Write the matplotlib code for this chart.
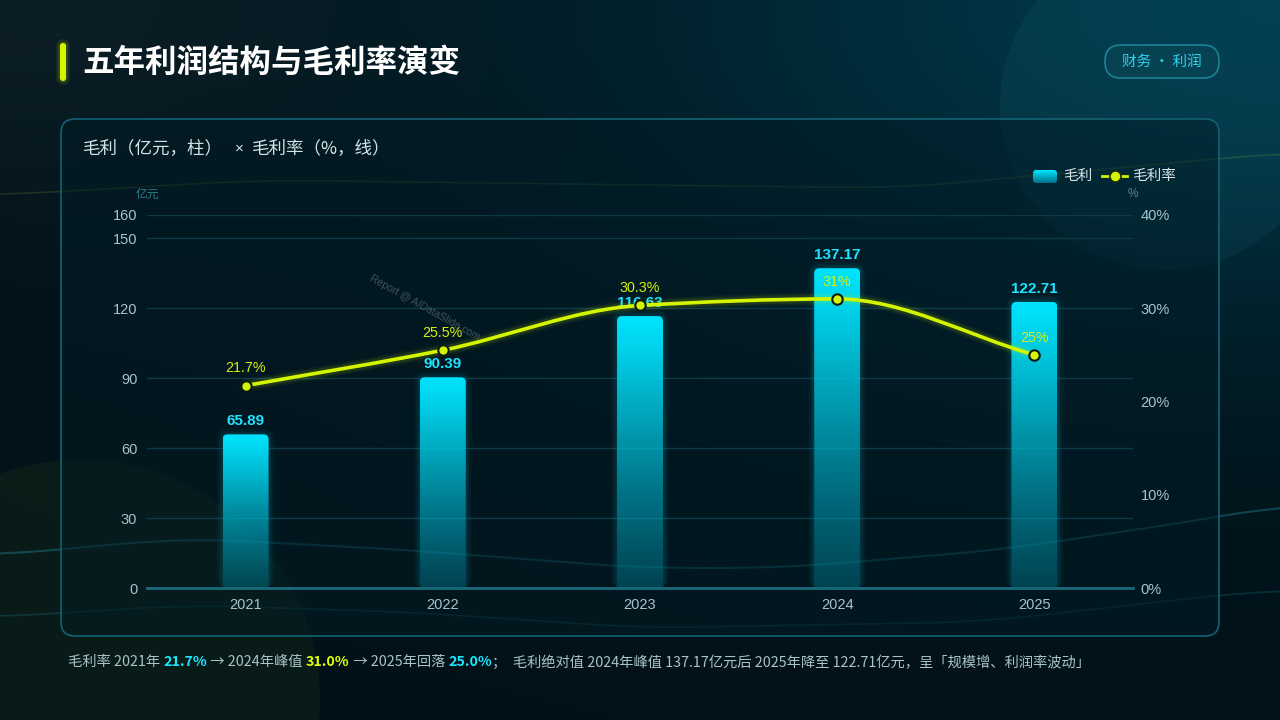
import numpy as np
import matplotlib.pyplot as plt
from matplotlib.patches import FancyBboxPatch, Circle, PathPatch
from matplotlib.path import Path

plt.rcParams['font.family'] = ['Liberation Sans', 'Noto Sans CJK SC', 'DejaVu Sans']

# ---------------------------------------------------------------- data
years = ['2021', '2022', '2023', '2024', '2025']
gross_profit = [65.89, 90.39, 116.63, 137.17, 122.71]      # 亿元
gross_margin = [21.7, 25.5, 30.3, 31.0, 25.0]              # %
margin_labels = ['21.7%', '25.5%', '30.3%', '31%', '25%']
left_ticks = [0, 30, 60, 90, 120, 150, 160]
right_ticks = [0, 10, 20, 30, 40]

title = '五年利润结构与毛利率演变'
subtitle = ['毛利（亿元，柱）', '×', '毛利率（%，线）']
tag = '财务 · 利润'
footer = [('毛利率 2021年 ', 'base'), ('21.7%', 'cyan'), (' → 2024年峰值 ', 'base'),
          ('31.0%', 'lime'), (' → 2025年回落 ', 'base'), ('25.0%', 'cyan'),
          ('；  毛利绝对值 2024年峰值 137.17亿元后 2025年降至 122.71亿元，呈「规模增、利润率波动」', 'base')]

CYAN = '#00e5ff'
LIME = '#d4f500'
TXT = '#a9c3cb'
CJK = 'Noto Sans CJK SC'

W, H = 1280, 720
fig = plt.figure(figsize=(12.8, 7.2), dpi=100)


def fx(x):
    return x / W


def fy(y):
    return 1 - y / H


def ftext(x, y, s, **kw):
    return fig.text(fx(x), fy(y), s, **kw)


# ---------------------------------------------------------------- background
bg = fig.add_axes([0, 0, 1, 1])
bg.set_xlim(0, W)
bg.set_ylim(H, 0)
bg.axis('off')

yy, xx = np.mgrid[0:1:180j, 0:1:320j]
base = np.array([0.008, 0.07, 0.095])
tl = np.array([0.05, 0.115, 0.145])
tr = np.array([0.0, 0.22, 0.29])
w_tl = 0.9 * np.exp(-(xx ** 2 + yy ** 2) / 0.08)[..., None]
w_tr = np.exp(-((xx - 1.0) ** 2 + yy ** 2 * 1.3) / 0.28)[..., None]
img = base * np.clip(1 - w_tl - w_tr, 0, 1) + tl * w_tl + tr * w_tr
img = np.clip(img, 0, 1)
bg.imshow(img, extent=[0, W, H, 0], aspect='auto', zorder=0, interpolation='bicubic')

bg.add_patch(Circle((1165, 105), 165, facecolor='#3fb0c8', alpha=0.07, edgecolor='none', zorder=1))
bg.add_patch(Circle((80, 700), 240, facecolor='#4a7a20', alpha=0.1, edgecolor='none', zorder=1))


def deco_curve(px, py, **kw):
    xs = np.linspace(0, W, 400)
    ys = np.interp(xs, px, py)
    k = np.ones(41) / 41
    ys = np.convolve(np.pad(ys, 20, mode='edge'), k, mode='valid')
    bg.plot(xs, ys, **kw)


deco_curve([0, 260, 640, 900, 1280], [195, 180, 185, 188, 153], color='#9acd32', alpha=0.16, lw=1.2, zorder=1)
deco_curve([0, 184, 408, 640, 780, 1000, 1220, 1280], [555, 538, 550, 568, 568, 550, 517, 505],
           color='#2ab0c8', alpha=0.3, lw=1.5, zorder=1)
deco_curve([0, 184, 408, 640, 980, 1220, 1280], [617, 605, 612, 628, 622, 595, 590],
           color='#2ab0c8', alpha=0.18, lw=1.2, zorder=1)

# panel
bg.add_patch(FancyBboxPatch((61, 119), 1158, 517, boxstyle='round,pad=0,rounding_size=14',
                            facecolor='#021b25', alpha=0.5, edgecolor='none', zorder=2))
bg.add_patch(FancyBboxPatch((61, 119), 1158, 517, boxstyle='round,pad=0,rounding_size=14',
                            facecolor='none', edgecolor='#126273', lw=1.2, zorder=2))

# title accent + title
for lw, a in [(10, 0.08), (7, 0.15)]:
    bg.plot([63, 63], [46, 78], color=LIME, lw=lw, alpha=a, solid_capstyle='round', zorder=3)
bg.add_patch(FancyBboxPatch((60, 43), 6, 38, boxstyle='round,pad=0,rounding_size=3',
                            facecolor=LIME, edgecolor='none', zorder=3))
ftext(82, 63, title, fontsize=22.7, weight='bold', color='white', va='center', family=CJK)

# tag pill
bg.add_patch(FancyBboxPatch((1105, 45), 114, 33, boxstyle='round,pad=0,rounding_size=16',
                            facecolor='#0a4656', alpha=0.6, edgecolor='none', zorder=3))
bg.add_patch(FancyBboxPatch((1105, 45), 114, 33, boxstyle='round,pad=0,rounding_size=16',
                            facecolor='none', edgecolor='#1a8296', lw=1.2, zorder=3))
ftext(1162, 62, tag, fontsize=10.5, color='#2fd4ec', ha='center', va='center', family=CJK)

# subtitle (× drawn in a latin font)
ftext(83, 148, subtitle[0], fontsize=12.6, color='#d6e4e8', va='center', family=CJK)
ftext(239, 149, subtitle[1], fontsize=11, color='#d6e4e8', va='center', ha='center',
      family='Liberation Sans')
ftext(252, 148, subtitle[2], fontsize=12.6, color='#d6e4e8', va='center', family=CJK)

# legend
grad_sw = np.linspace(1, 0, 20)[:, None] * np.array([0, 0.9, 1.0]) + \
          np.linspace(0, 1, 20)[:, None] * np.array([0.0, 0.45, 0.55])
sw = bg.imshow(grad_sw[:, None, :].repeat(2, axis=1), extent=[1033, 1057, 183, 170], aspect='auto', zorder=3)
sw_clip = FancyBboxPatch((1033, 170), 24, 13, boxstyle='round,pad=0,rounding_size=3',
                         facecolor='none', edgecolor='none', transform=bg.transData)
bg.add_patch(sw_clip)
sw.set_clip_path(sw_clip)
ftext(1063, 176, '毛利', fontsize=10.5, color='#d6e4e8', va='center', family=CJK)
bg.plot([1102, 1127], [176, 176], color=LIME, lw=2, zorder=3)
bg.plot([1114.5], [176], 'o', ms=8, color=LIME, mec='#1a2a10', mew=1.2, zorder=4)
ftext(1132, 176, '毛利率', fontsize=10.5, color='#d6e4e8', va='center', family=CJK)

# unit labels
ftext(147, 194, '亿元', fontsize=8.5, color='#2f7d8c', ha='center', va='center', family=CJK)
ftext(1133, 194, '%', fontsize=8.5, color='#5f7f88', ha='center', va='center')

# watermark
ftext(425, 308, 'Report @ AIDataSlide.com', fontsize=7.5, color='#8a9aa0', alpha=0.45,
      rotation=-29, ha='center', va='center', rotation_mode='anchor')

# ---------------------------------------------------------------- main chart
L, R, T, B = 147, 1133, 215, 588
ax = fig.add_axes([fx(L), fy(B), (R - L) / W, (B - T) / H])
ax.patch.set_alpha(0)
ax.set_xlim(-0.5, len(years) - 0.5)
ax.set_ylim(0, 160)
ax.set_yticks(left_ticks)
ax.set_xticks(range(len(years)))
ax.set_xticklabels(years)
ax.tick_params(axis='both', length=0, colors=TXT, labelsize=10.5)
ax.tick_params(axis='y', pad=7)
ax.tick_params(axis='x', pad=7.5)
ax.grid(axis='y', color='#0e3a48', lw=1)
ax.set_axisbelow(True)
for s in ['top', 'right', 'left']:
    ax.spines[s].set_visible(False)
ax.spines['bottom'].set_color('#1a6a7c')
ax.spines['bottom'].set_linewidth(2)
ax.spines['bottom'].set_zorder(5)

bars = ax.bar(range(len(years)), gross_profit, width=0.233, color='none', edgecolor='none', zorder=2)

x_per_px = (len(years)) / (R - L)
y_per_px = 160 / (B - T)
asp = y_per_px / x_per_px
n = 256
t = np.linspace(0, 1, n)[:, None]          # 0 at top, 1 at bottom
top_c = np.array([0.0, 0.90, 1.0])
bot_c = np.array([0.0, 0.55, 0.65])
rgb = top_c * (1 - t) + bot_c * t
alpha = 1.0 - 0.78 * t ** 1.3
grad = np.concatenate([rgb, alpha], axis=1)[:, None, :].repeat(2, axis=1)

for b in bars:
    x0, w, h = b.get_x(), b.get_width(), b.get_height()
    # glow
    for k, a in [(6, 0.03), (4, 0.045), (2, 0.06)]:
        ax.add_patch(FancyBboxPatch((x0 - k * x_per_px, 0), w + 2 * k * x_per_px, h + k * y_per_px,
                                    boxstyle=f'round,pad=0,rounding_size={(5 + k) * x_per_px}',
                                    mutation_aspect=asp, facecolor=CYAN, alpha=a, edgecolor='none', zorder=1.5))
    im = ax.imshow(grad, extent=[x0, x0 + w, 0, h], aspect='auto', zorder=2, interpolation='bilinear')
    clip = FancyBboxPatch((x0, 0), w, h, boxstyle=f'round,pad=0,rounding_size={5 * x_per_px}',
                          mutation_aspect=asp, facecolor='none', edgecolor='none', transform=ax.transData)
    ax.add_patch(clip)
    im.set_clip_path(clip)
    ax.annotate(f'{h:.2f}', (x0 + w / 2, h), xytext=(0, 9.5), textcoords='offset points',
                ha='center', va='center', color='#1fe3ff', fontsize=11, weight='bold', zorder=6)

ax.set_xlim(-0.5, len(years) - 0.5)
ax.set_ylim(0, 160)

# line on right axis
ax2 = ax.twinx()
ax2.set_ylim(0, 40)
ax2.set_yticks(right_ticks)
ax2.set_yticklabels([f'{v}%' for v in right_ticks])
ax2.tick_params(axis='y', length=0, colors=TXT, labelsize=10.5, pad=5.5)
for s in ax2.spines.values():
    s.set_visible(False)

xs = np.arange(len(years), dtype=float)
ys = np.array(gross_margin, dtype=float)
d = np.diff(ys) / np.diff(xs)
m = np.zeros_like(ys)
m[0], m[-1] = d[0], d[-1]
for i in range(1, len(ys) - 1):
    if d[i - 1] * d[i] > 0:
        m[i] = 2 / (1 / d[i - 1] + 1 / d[i])
verts = [(xs[0], ys[0])]
codes = [Path.MOVETO]
for i in range(len(xs) - 1):
    dx = xs[i + 1] - xs[i]
    verts += [(xs[i] + dx / 3, ys[i] + m[i] * dx / 3),
              (xs[i + 1] - dx / 3, ys[i + 1] - m[i + 1] * dx / 3),
              (xs[i + 1], ys[i + 1])]
    codes += [Path.CURVE4] * 3
path = Path(verts, codes)
for lw, a in [(9, 0.05), (6, 0.1)]:
    ax2.add_patch(PathPatch(path, fill=False, edgecolor=LIME, lw=lw, alpha=a, capstyle='round', zorder=3))
ax2.add_patch(PathPatch(path, fill=False, edgecolor=LIME, lw=2.6, zorder=4))
ax2.plot(xs, ys, 'o', ms=7.5, color=LIME, mec='#0b1a12', mew=1.5, zorder=5)
for x, y, lab in zip(xs, ys, margin_labels):
    ax2.annotate(lab, (x, y), xytext=(0, 12.5), textcoords='offset points', ha='center', va='center',
                 color='#d4f010', fontsize=10.3, zorder=6)

# ---------------------------------------------------------------- footer
colors = {'base': TXT, 'cyan': '#19e6ff', 'lime': '#e0ff00'}
fig.canvas.draw()
renderer = fig.canvas.get_renderer()
cx = 68
for s, c in footer:
    tt = ftext(cx, 662, s, fontsize=10.3, color=colors[c], va='center',
               weight='bold' if c != 'base' else 'normal', family=CJK)
    cx += tt.get_window_extent(renderer).width

fig.savefig('out.png', dpi=100, facecolor='#02131a')
